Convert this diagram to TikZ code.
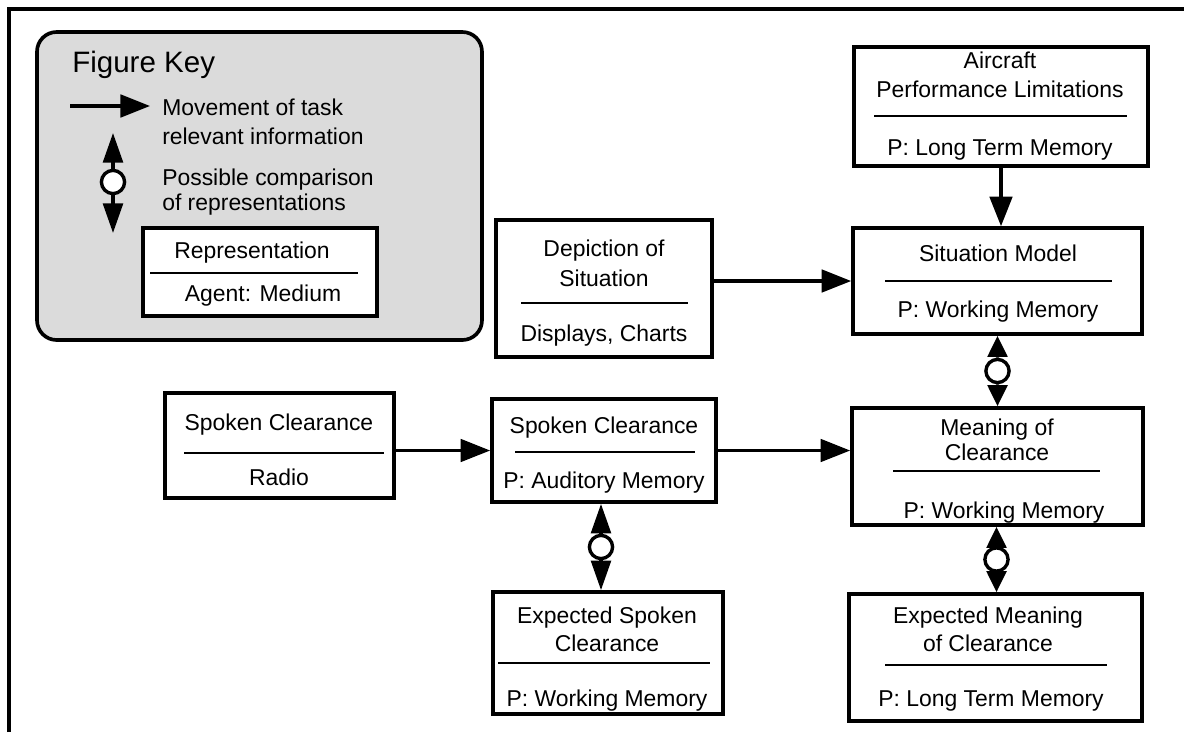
\documentclass[tikz,border=0pt]{standalone}
\usepackage{fontspec}
\setmainfont{Liberation Sans}
\usetikzlibrary{arrows.meta,calc}
\def\px{0.025cm}
\def\boxline{2.6pt}
\def\ruleline{1.8pt}
\tikzset{
  repbox/.style={draw, line width=\boxline, fill=white, inner sep=0pt},
  txt/.style={anchor=base, inner sep=0pt, font=\fontsize{16.3}{20}\selectfont},
  rule/.style={line width=\ruleline},
  flow/.style={line width=2.4pt, -{Triangle[length=21pt,width=16pt]}},
  cmp/.style={line width=2.4pt, -{Triangle[length=#1,width=14pt]}},
  cmp/.default=15pt,
  cmpdot/.style={circle, draw, line width=2.4pt, fill=white, minimum size=16.5pt, inner sep=0pt},
}

\begin{document}
\begin{tikzpicture}[x=\px, y=-\px]
\useasboundingbox (0,0) rectangle (1184,732);

% Frame
\draw[line width=2.6pt] (9,732) -- (9,9) -- (1184,9);

% Figure key
\node[draw, line width=\boxline, rounded corners=14pt, fill=black!14, minimum width=445*\px, minimum height=308*\px, inner sep=0pt] (key) at (259.5,186) {};
\node[anchor=base west, inner sep=0pt, font=\fontsize{21}{25}\selectfont] (keytitle) at (72,72) {Figure Key};
\coordinate (keyA) at (70,106);
\coordinate (keyB) at (150,106);
\draw[flow] (keyA) -- (keyB); % movement arrow
\node[txt, anchor=base west] (keymove1) at (162,115) {Movement of task};
\node[txt, anchor=base west] (keymove2) at (162,144) {relevant information};
\node[cmpdot] (keydot) at (113,182) {};
\coordinate (keyup) at (113,133);
\coordinate (keydown) at (113,233);
\draw[cmp=21pt] (keydot) -- (keyup); % comparison arrow
\draw[cmp=21pt] (keydot) -- (keydown);
\node[txt, anchor=base west] (keycmp1) at (162,185) {Possible comparison};
\node[txt, anchor=base west] (keycmp2) at (162,210) {of representations};
\node[repbox, minimum width=234*\px, minimum height=88*\px] (keyrep) at (260,272) {};
\node[txt] (keyrepT) at (252,258) {Representation};
\draw[rule] (150,273) -- (358,273);
\node[txt] (keyrepB) at (263,301) {Agent: Medium};

% Aircraft performance
\node[repbox, minimum width=294*\px, minimum height=119*\px] (acft) at (1001,106.5) {};
\node[txt] (acftT1) at (1000,68) {Aircraft};
\node[txt] (acftT2) at (1000,97) {Performance Limitations};
\draw[rule] (874,116) -- (1127,116);
\node[txt] (acftB) at (1000,155) {P: Long Term Memory};

% Situation model
\node[repbox, minimum width=289*\px, minimum height=106*\px] (sit) at (997.5,281) {};
\node[txt] (sitT) at (998,261) {Situation Model};
\draw[rule] (885,281) -- (1112,281);
\node[txt] (sitB) at (998,317) {P: Working Memory};

% Depiction of situation
\node[repbox, minimum width=216*\px, minimum height=137*\px] (dep) at (604,288.5) {};
\node[txt] (depT1) at (604,256) {Depiction of};
\node[txt] (depT2) at (604,286) {Situation};
\draw[rule] (521,303) -- (688,303);
\node[txt] (depB) at (604,341) {Displays, Charts};

% Spoken clearance (radio)
\node[repbox, minimum width=229*\px, minimum height=105*\px] (radio) at (279.5,445.5) {};
\node[txt] (radioT) at (279,430) {Spoken Clearance};
\draw[rule] (184,453) -- (384,453);
\node[txt] (radioB) at (279,485) {Radio};

% Spoken clearance (auditory memory)
\node[repbox, minimum width=224*\px, minimum height=103*\px] (aud) at (604,450.5) {};
\node[txt] (audT) at (604,433) {Spoken Clearance};
\draw[rule] (515,452) -- (695,452);
\node[txt] (audB) at (604,488) {P: Auditory Memory};

% Meaning of clearance
\node[repbox, minimum width=291*\px, minimum height=117*\px] (mean) at (997.5,466.5) {};
\node[txt] (meanT1) at (997,435) {Meaning of};
\node[txt] (meanT2) at (997,460) {Clearance};
\draw[rule] (893,471) -- (1100,471);
\node[txt] (meanB) at (1004,518) {P: Working Memory};

% Expected spoken clearance
\node[repbox, minimum width=230*\px, minimum height=122*\px] (expS) at (608,653) {};
\node[txt] (expST1) at (607,623) {Expected Spoken};
\node[txt] (expST2) at (607,651) {Clearance};
\draw[rule] (498,663) -- (710,663);
\node[txt] (expSB) at (607,706) {P: Working Memory};

% Expected meaning of clearance
\node[repbox, minimum width=293*\px, minimum height=127*\px] (expM) at (995.5,657.5) {};
\node[txt] (expMT1) at (988,623) {Expected Meaning};
\node[txt] (expMT2) at (988,651) {of Clearance};
\draw[rule] (885,665) -- (1107,665);
\node[txt] (expMB) at (991,706) {P: Long Term Memory};

% Movement of information
\draw[flow] (dep.east |- sit.west) -- (sit.west);
\draw[flow] (acft.south) -- (acft.south |- sit.north);
\draw[flow] (radio.east |- aud.west) -- (aud.west);
\draw[flow] (aud.east) -- (aud.east -| mean.west);

% Comparisons
\node[cmpdot] (cmpSM) at ($(sit.south)!0.5!(mean.north)$) {};
\draw[cmp] (cmpSM) -- (sit.south);
\draw[cmp] (cmpSM) -- (mean.north);
\node[cmpdot] (cmpME) at ($(mean.south)!0.5!(expM.north)$) {};
\draw[cmp] (cmpME) -- (cmpME |- mean.south);
\draw[cmp] (cmpME) -- (cmpME |- expM.north);
\node[cmpdot] (cmpAE) at (601,547) {};
\draw[cmp=21pt] (cmpAE) -- (cmpAE |- aud.south);
\draw[cmp=21pt] (cmpAE) -- (cmpAE |- expS.north);

\end{tikzpicture}
\end{document}
